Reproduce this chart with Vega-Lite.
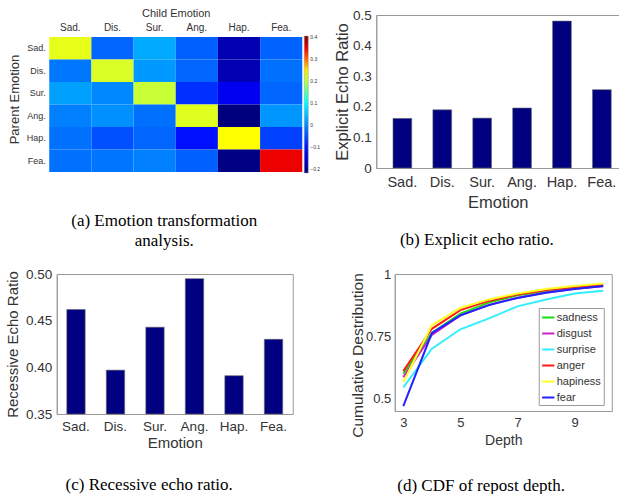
{
  "$schema": "https://vega.github.io/schema/vega-lite/v6.json",
  "padding": {"left": 4, "top": 7, "right": 0, "bottom": 0},
  "background": "white",
  "config": {
    "font": "Liberation Sans",
    "view": {"stroke": "#999"},
    "axis": {"grid": false, "labelColor": "#333", "titleColor": "#333", "titleFontWeight": "normal", "domainColor": "#999", "tickColor": "#999"},
    "title": {"font": "Liberation Serif", "fontSize": 17, "fontWeight": "normal", "color": "#000", "orient": "bottom", "anchor": "middle", "frame": "bounds"},
    "legend": {"labelColor": "#333"}
  },
  "resolve": {"scale": {"color": "independent"}, "legend": {"color": "independent"}},
  "center": true,
  "datasets": {
    "heat": [
      {"parent": "Sad.", "child": "Sad.", "value": 0.227},
      {"parent": "Sad.", "child": "Dis.", "value": -0.032},
      {"parent": "Sad.", "child": "Sur.", "value": 0.027},
      {"parent": "Sad.", "child": "Ang.", "value": -0.037},
      {"parent": "Sad.", "child": "Hap.", "value": -0.182},
      {"parent": "Sad.", "child": "Fea.", "value": -0.035},
      {"parent": "Dis.", "child": "Sad.", "value": -0.017},
      {"parent": "Dis.", "child": "Dis.", "value": 0.219},
      {"parent": "Dis.", "child": "Sur.", "value": 0.012},
      {"parent": "Dis.", "child": "Ang.", "value": -0.032},
      {"parent": "Dis.", "child": "Hap.", "value": -0.18},
      {"parent": "Dis.", "child": "Fea.", "value": -0.023},
      {"parent": "Sur.", "child": "Sad.", "value": 0.018},
      {"parent": "Sur.", "child": "Dis.", "value": -0.003},
      {"parent": "Sur.", "child": "Sur.", "value": 0.21},
      {"parent": "Sur.", "child": "Ang.", "value": -0.079},
      {"parent": "Sur.", "child": "Hap.", "value": -0.132},
      {"parent": "Sur.", "child": "Fea.", "value": -0.032},
      {"parent": "Ang.", "child": "Sad.", "value": -0.01},
      {"parent": "Ang.", "child": "Dis.", "value": 0.004},
      {"parent": "Ang.", "child": "Sur.", "value": -0.023},
      {"parent": "Ang.", "child": "Ang.", "value": 0.223},
      {"parent": "Ang.", "child": "Hap.", "value": -0.22},
      {"parent": "Ang.", "child": "Fea.", "value": 0.009},
      {"parent": "Hap.", "child": "Sad.", "value": -0.023},
      {"parent": "Hap.", "child": "Dis.", "value": -0.051},
      {"parent": "Hap.", "child": "Sur.", "value": -0.032},
      {"parent": "Hap.", "child": "Ang.", "value": -0.106},
      {"parent": "Hap.", "child": "Hap.", "value": 0.24},
      {"parent": "Hap.", "child": "Fea.", "value": -0.065},
      {"parent": "Fea.", "child": "Sad.", "value": -0.023},
      {"parent": "Fea.", "child": "Dis.", "value": -0.019},
      {"parent": "Fea.", "child": "Sur.", "value": -0.01},
      {"parent": "Fea.", "child": "Ang.", "value": -0.037},
      {"parent": "Fea.", "child": "Hap.", "value": -0.215},
      {"parent": "Fea.", "child": "Fea.", "value": 0.349}
    ],
    "explicit": [
      {"emotion": "Sad.", "ratio": 0.162},
      {"emotion": "Dis.", "ratio": 0.19},
      {"emotion": "Sur.", "ratio": 0.163},
      {"emotion": "Ang.", "ratio": 0.196},
      {"emotion": "Hap.", "ratio": 0.48},
      {"emotion": "Fea.", "ratio": 0.256}
    ],
    "recessive": [
      {"emotion": "Sad.", "ratio": 0.462},
      {"emotion": "Dis.", "ratio": 0.397},
      {"emotion": "Sur.", "ratio": 0.443},
      {"emotion": "Ang.", "ratio": 0.495},
      {"emotion": "Hap.", "ratio": 0.391},
      {"emotion": "Fea.", "ratio": 0.43}
    ],
    "cdf": [
      {"emotion": "sadness", "depth": 3, "cdf": 0.6},
      {"emotion": "sadness", "depth": 4, "cdf": 0.763},
      {"emotion": "sadness", "depth": 5, "cdf": 0.841},
      {"emotion": "sadness", "depth": 6, "cdf": 0.885},
      {"emotion": "sadness", "depth": 7, "cdf": 0.915},
      {"emotion": "sadness", "depth": 8, "cdf": 0.932},
      {"emotion": "sadness", "depth": 9, "cdf": 0.944},
      {"emotion": "sadness", "depth": 10, "cdf": 0.955},
      {"emotion": "disgust", "depth": 3, "cdf": 0.586},
      {"emotion": "disgust", "depth": 4, "cdf": 0.755},
      {"emotion": "disgust", "depth": 5, "cdf": 0.834},
      {"emotion": "disgust", "depth": 6, "cdf": 0.876},
      {"emotion": "disgust", "depth": 7, "cdf": 0.905},
      {"emotion": "disgust", "depth": 8, "cdf": 0.926},
      {"emotion": "disgust", "depth": 9, "cdf": 0.941},
      {"emotion": "disgust", "depth": 10, "cdf": 0.951},
      {"emotion": "surprise", "depth": 3, "cdf": 0.545},
      {"emotion": "surprise", "depth": 4, "cdf": 0.7},
      {"emotion": "surprise", "depth": 5, "cdf": 0.778},
      {"emotion": "surprise", "depth": 6, "cdf": 0.822},
      {"emotion": "surprise", "depth": 7, "cdf": 0.87},
      {"emotion": "surprise", "depth": 8, "cdf": 0.898},
      {"emotion": "surprise", "depth": 9, "cdf": 0.922},
      {"emotion": "surprise", "depth": 10, "cdf": 0.933},
      {"emotion": "anger", "depth": 3, "cdf": 0.61},
      {"emotion": "anger", "depth": 4, "cdf": 0.78},
      {"emotion": "anger", "depth": 5, "cdf": 0.855},
      {"emotion": "anger", "depth": 6, "cdf": 0.892},
      {"emotion": "anger", "depth": 7, "cdf": 0.918},
      {"emotion": "anger", "depth": 8, "cdf": 0.936},
      {"emotion": "anger", "depth": 9, "cdf": 0.948},
      {"emotion": "anger", "depth": 10, "cdf": 0.957},
      {"emotion": "hapiness", "depth": 3, "cdf": 0.566},
      {"emotion": "hapiness", "depth": 4, "cdf": 0.794},
      {"emotion": "hapiness", "depth": 5, "cdf": 0.864},
      {"emotion": "hapiness", "depth": 6, "cdf": 0.898},
      {"emotion": "hapiness", "depth": 7, "cdf": 0.922},
      {"emotion": "hapiness", "depth": 8, "cdf": 0.94},
      {"emotion": "hapiness", "depth": 9, "cdf": 0.952},
      {"emotion": "hapiness", "depth": 10, "cdf": 0.962},
      {"emotion": "fear", "depth": 3, "cdf": 0.47},
      {"emotion": "fear", "depth": 4, "cdf": 0.763},
      {"emotion": "fear", "depth": 5, "cdf": 0.834},
      {"emotion": "fear", "depth": 6, "cdf": 0.875},
      {"emotion": "fear", "depth": 7, "cdf": 0.904},
      {"emotion": "fear", "depth": 8, "cdf": 0.925},
      {"emotion": "fear", "depth": 9, "cdf": 0.94},
      {"emotion": "fear", "depth": 10, "cdf": 0.952}
    ]
  },
  "vconcat": [
    {
      "resolve": {"scale": {"color": "independent"}, "legend": {"color": "independent"}},
      "hconcat": [
        {
          "width": 253,
          "height": 157,
          "view": {"stroke": null},
          "title": {"text": ["(a) Emotion transformation", "analysis."], "offset": 39, "lineHeight": 20},
          "data": {"name": "heat"},
          "mark": {"type": "rect"},
          "encoding": {
            "x": {"field": "child", "type": "nominal", "sort": ["Sad.", "Dis.", "Sur.", "Ang.", "Hap.", "Fea."],
              "axis": {"orient": "top", "offset": -22, "title": "Child Emotion", "ticks": false, "domain": false, "labelAngle": 0, "labelFontSize": 10, "titleFontSize": 11, "labelPadding": 5, "titlePadding": 4}},
            "y": {"field": "parent", "type": "nominal", "sort": ["Sad.", "Dis.", "Sur.", "Ang.", "Hap.", "Fea."],
              "scale": {"paddingInner": 0, "paddingOuter": 0.4889, "align": 1},
              "axis": {"title": "Parent Emotion", "titleY": 84, "ticks": false, "domain": false, "labelFontSize": 9, "titleFontSize": 13, "labelPadding": 4, "titlePadding": 5}},
            "color": {"field": "value", "type": "quantitative",
              "scale": {"domain": [-0.22, -0.12, 0.1, 0.24, 0.34, 0.405], "range": ["#00007f", "#0000ff", "#00ffff", "#ffff00", "#ff0000", "#7f0000"], "interpolate": "rgb"},
              "legend": {"orient": "none", "direction": "vertical", "legendX": 255, "legendY": 21, "title": null, "gradientLength": 137, "gradientThickness": 4, "values": [-0.2, -0.1, 0, 0.1, 0.2, 0.3, 0.4], "format": ".1~f", "labelFontSize": 5, "labelOffset": 2, "gradientStrokeColor": "#999", "gradientStrokeWidth": 0.5, "padding": 0}}
          }
        },
        {
          "width": 243,
          "height": 153,
          "title": {"text": "(b) Explicit echo ratio.", "offset": 21},
          "data": {"name": "explicit"},
          "mark": {"type": "bar", "color": "#000080", "stroke": "#666", "strokeWidth": 0.6},
          "encoding": {
            "x": {"field": "emotion", "type": "nominal", "sort": null,
              "scale": {"paddingInner": 0.53, "paddingOuter": 0.31, "align": 0.676},
              "axis": {"title": "Emotion", "labelAngle": 0, "ticks": false, "labelFontSize": 14.5, "titleFontSize": 16.5, "labelPadding": 7, "titlePadding": 6}},
            "y": {"field": "ratio", "type": "quantitative", "scale": {"domain": [0, 0.5], "nice": false},
              "axis": {"values": [0, 0.1, 0.2, 0.3, 0.4, 0.5], "format": ".1~f", "title": "Explicit Echo Ratio", "labelFontSize": 13.5, "titleFontSize": 16.5, "ticks": false, "labelPadding": 5, "titlePadding": 2}}
          }
        }
      ],
      "spacing": 13
    },
    {
      "resolve": {"scale": {"color": "independent"}, "legend": {"color": "independent"}},
      "hconcat": [
        {
          "width": 236,
          "height": 140,
          "title": {"text": "(c) Recessive echo ratio.", "offset": 26},
          "data": {"name": "recessive"},
          "mark": {"type": "bar", "color": "#000080", "stroke": "#666", "strokeWidth": 0.6},
          "encoding": {
            "x": {"field": "emotion", "type": "nominal", "sort": null,
              "scale": {"paddingInner": 0.535, "paddingOuter": 0.254},
              "axis": {"title": "Emotion", "labelAngle": 0, "ticks": false, "labelFontSize": 13.5, "titleFontSize": 15, "labelPadding": 5, "titlePadding": 3}},
            "y": {"field": "ratio", "type": "quantitative", "scale": {"domain": [0.35, 0.5], "nice": false, "zero": false},
              "axis": {"values": [0.35, 0.4, 0.45, 0.5], "format": ".2f", "title": "Recessive Echo Ratio", "labelFontSize": 13.5, "titleFontSize": 15, "ticks": false, "labelPadding": 5, "titlePadding": 5}},
            "y2": {"datum": 0.35}
          }
        },
        {
          "width": 217,
          "height": 137,
          "title": {"text": "(d) CDF of repost depth.", "offset": 31},
          "data": {"name": "cdf"},
          "mark": {"type": "line", "strokeWidth": 2},
          "encoding": {
            "x": {"field": "depth", "type": "quantitative", "scale": {"domain": [2.7, 10.3], "nice": false},
              "axis": {"values": [3, 5, 7, 9], "title": "Depth", "labelFontSize": 13, "titleFontSize": 14, "ticks": false, "labelPadding": 5, "titlePadding": 4}},
            "y": {"field": "cdf", "type": "quantitative", "scale": {"domain": [0.45, 1], "nice": false, "zero": false},
              "axis": {"values": [0.5, 0.75, 1], "format": ".2~f", "title": "Cumulative Destribution", "titleY": 81, "labelFontSize": 13, "titleFontSize": 15.5, "ticks": false, "labelPadding": 4, "titlePadding": 0}},
            "color": {"field": "emotion", "type": "nominal",
              "scale": {"domain": ["sadness", "disgust", "surprise", "anger", "hapiness", "fear"], "range": ["#11e011", "#cc22cc", "#33eeff", "#ff1a1a", "#ffff22", "#2222ff"]},
              "legend": {"orient": "none", "direction": "vertical", "legendX": 144, "legendY": 34, "title": null, "symbolType": "stroke", "strokeColor": "#999", "fillColor": "white", "padding": 2, "labelFontSize": 11, "symbolStrokeWidth": 2, "symbolSize": 150, "rowPadding": 3, "labelOffset": 1}}
          }
        }
      ],
      "spacing": 56
    }
  ],
  "spacing": 17
}
